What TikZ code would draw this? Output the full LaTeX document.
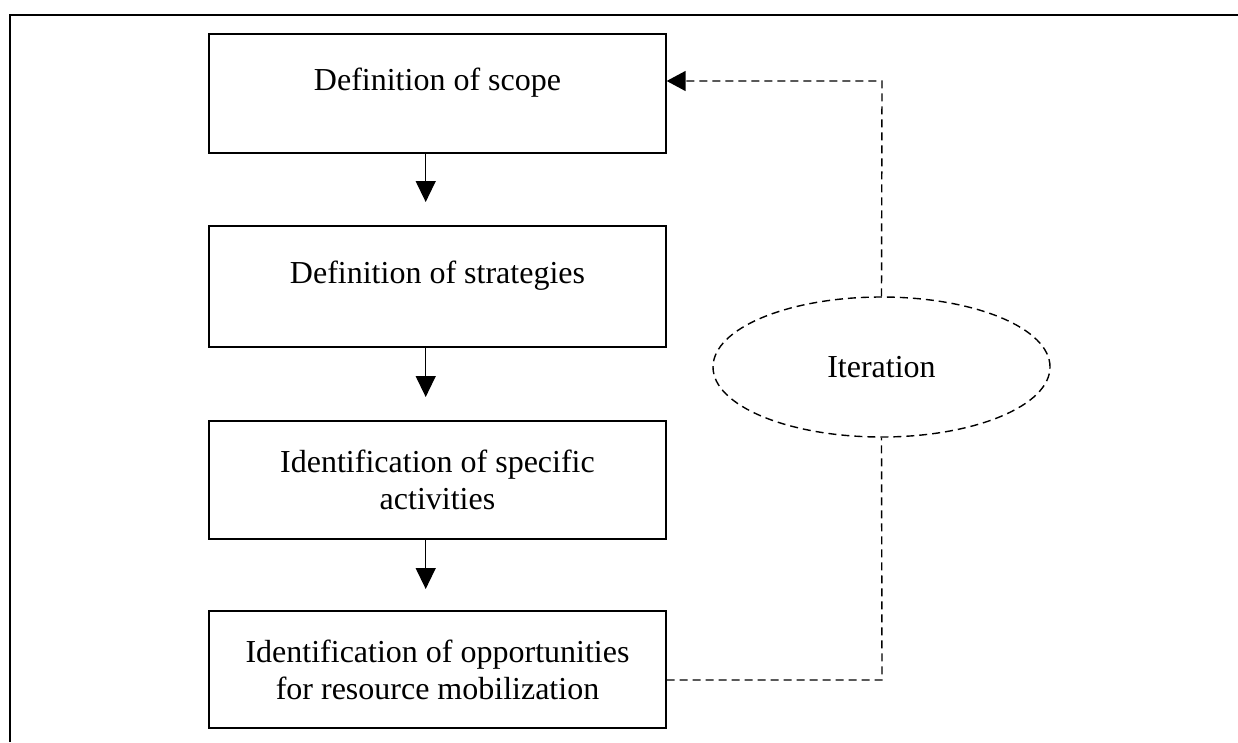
\documentclass[tikz,border=0pt]{standalone}
\usepackage{fontspec}
\setmainfont{Liberation Serif}
\usetikzlibrary{arrows.meta,shapes.geometric}
\begin{document}
\begin{tikzpicture}[x=1pt,y=-1pt,
  stepbox/.style={draw,line width=1.3pt,minimum width=457pt,inner sep=0pt,align=center,
    font=\fontsize{32}{37}\selectfont},
  flowarrow/.style={line width=1.3pt,-{Triangle[width=20pt,length=21pt]}},
  dashline/.style={line width=1.4pt,dash pattern=on 8pt off 5pt},
  iterell/.style={ellipse,draw,dashline,minimum width=337pt,minimum height=140pt,inner sep=0pt,
    font=\fontsize{32}{37}\selectfont}]
\useasboundingbox (0,0) rectangle (1238,742);
\draw[line width=2pt] (10,742) -- (10,15) -- (1238,15);
\node[stepbox,minimum height=119pt,text depth=29pt] (b1) at (437.5,93.5) {Definition of scope};
\node[stepbox,minimum height=121pt,text depth=29pt] (b2) at (437.5,286.5) {Definition of strategies};
\node[stepbox,minimum height=118pt] (b3) at (437.5,480) {Identification of specific\\activities};
\node[stepbox,minimum height=117pt] (b4) at (437.5,669.5) {Identification of opportunities\\for resource mobilization};
\coordinate (t1) at (425.7,202);
\coordinate (t2) at (425.7,397);
\coordinate (t3) at (425.7,589);
\draw[flowarrow] (b1.south -| t1) -- (t1);
\draw[flowarrow] (b2.south -| t2) -- (t2);
\draw[flowarrow] (b3.south -| t3) -- (t3);
\node[iterell] (it) at (881.5,367) {Iteration};
\coordinate (c1) at (882,680);
\coordinate (c2) at (882,81);
\draw[dashline] (b4.east |- c1) -- (c1) -- (it.south);
\draw[dashline,-{Triangle[width=20pt,length=19pt]}] (it.north) -- (c2) -- (b1.east |- c2);
\end{tikzpicture}
\end{document}
